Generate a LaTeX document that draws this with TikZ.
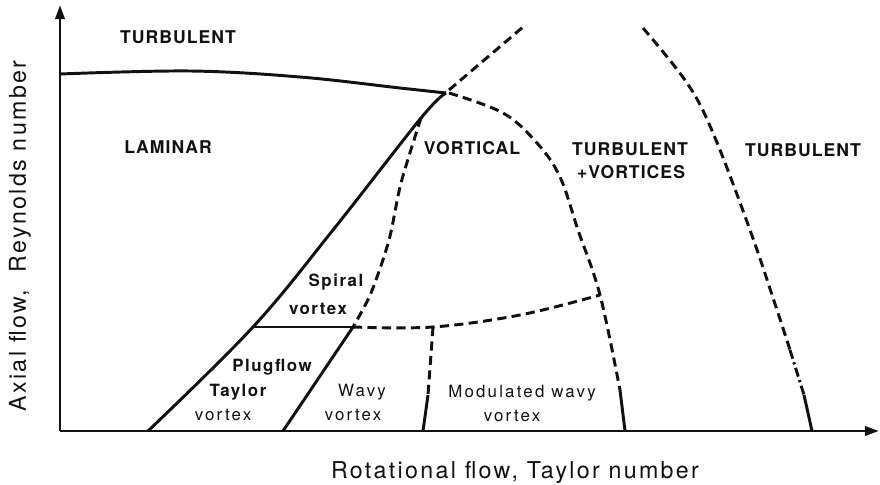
\documentclass[tikz,border=0pt]{standalone}
\usepackage{fontspec}
\usepackage{tikz}
\usetikzlibrary{arrows.meta}
\newfontfamily\capfont[LetterSpace=6]{TeX Gyre Heros}
\newfontfamily\boldfont[LetterSpace=9]{TeX Gyre Heros}
\newfontfamily\smallfont[LetterSpace=13]{TeX Gyre Heros}
\newfontfamily\axisfont[LetterSpace=10]{TeX Gyre Heros}
\definecolor{inkblack}{RGB}{17,17,17}
\definecolor{paperwhite}{RGB}{255,255,255}

\begin{document}
\begin{tikzpicture}[
    x=0.025cm, y=-0.025cm,
    axis/.style={draw=inkblack, line width=2.1pt, -{Triangle[length=10pt, width=6.5pt]}},
    border/.style={draw=inkblack, line width=2.1pt, line join=round},
    guess/.style={draw=inkblack, line width=2.1pt, dash pattern=on 6.5pt off 3.8pt},
    dashdot/.style={draw=inkblack, line width=2.1pt, dash pattern=on 6.5pt off 2.6pt on 1.6pt off 2.6pt},
    regime/.style={text=inkblack, inner sep=0pt, font=\capfont\bfseries\fontsize{12.5}{16}\selectfont},
    boldlabel/.style={text=inkblack, inner sep=0pt, font=\boldfont\bfseries\fontsize{12}{14}\selectfont},
    smalllabel/.style={text=inkblack, inner sep=0pt, font=\smallfont\fontsize{12}{14}\selectfont},
    axislabel/.style={text=inkblack, inner sep=0pt, font=\axisfont\fontsize{16.5}{19}\selectfont}
]

% Background
\fill[paperwhite] (0,0) rectangle (880,485);
\useasboundingbox (0,0) rectangle (880,485);

% Key points
\coordinate (origin) at (60,431);
\coordinate (junc) at (446,93);
\coordinate (branch) at (421,118);
\coordinate (knee) at (253,327);
\coordinate (cross) at (353,327);
\coordinate (split) at (433,327);
\coordinate (corner) at (600,295);

% 1. AXES
\draw[axis] (origin) -- (60,5);
\draw[axis] (origin) -- (879,431);

% 2. SOLID BOUNDARIES
\draw[border] plot[smooth, tension=0.6] coordinates {(60,74) (190,71) (300,77) (400,88) (junc)};
\draw[border] plot[smooth, tension=0.6] coordinates {(junc) (branch) (333,230) (knee) (148,431)};
\draw[border] (knee) -- (cross);
\draw[border] (cross) -- (283,431);

% 3. DASHED BOUNDARIES
\draw[guess] plot[smooth, tension=0.5] coordinates {(branch) (401,183) (389,240) (371,293) (cross)};
\draw[guess] plot[smooth, tension=0.6] coordinates {(cross) (split) (520,315) (corner)};
\draw[guess] (split) -- (428,395);
\draw[border] (428,395) -- (423,431);
\draw[guess] (449,90) -- (523,27);
\draw[guess] plot[smooth, tension=0.6] coordinates {(449,93) (503,113) (537,143) (560,177) (578,230) (corner) (620,390)};
\draw[border] (620,390) -- (625,431);
\draw[guess] plot[smooth, tension=0.6] coordinates {(643,28) (687,83) (713,133) (750,230) (777,310) (790,350)};
\draw[dashdot] (790,350) -- (804,395);
\draw[border] (804,395) -- (812,431);

% 4. REGIME LABELS
\node[regime] (turbtop) at (178,37) {TURBULENT};
\node[regime] (laminar) at (168,147) {LAMINAR};
\node[regime] (vortical) at (472,148) {VORTICAL};
\node[regime] (turbvort) at (630,149) {TURBULENT};
\node[regime] (plusvort) at (631,172) {+VORTICES};
\node[regime] (turbright) at (803,150) {TURBULENT};

% 5. VORTEX LABELS
\node[boldlabel] (spiral) at (336,282) {Spiral};
\node[boldlabel] (spiralvx) at (318,309) {vortex};
\node[boldlabel] (plug) at (272,367) {Plugflow};
\node[boldlabel] (taylor) at (238,392) {Taylor};
\node[smalllabel] (taylorvx) at (223,415) {vortex};
\node[smalllabel] (wavy) at (362,392) {Wavy};
\node[smalllabel] (wavyvx) at (353,415) {vortex};
\node[smalllabel] (modwavy) at (522,393) {Modulated wavy};
\node[smalllabel] (modvx) at (512,416) {vortex};

% 6. AXIS TITLES
\node[axislabel] (xtitle) at (515,473) {Rotational flow, Taylor number};
\node[axislabel, rotate=90] (ytitle) at (20,236) {Axial flow,\ \ Reynolds number};

\end{tikzpicture}
\end{document}
